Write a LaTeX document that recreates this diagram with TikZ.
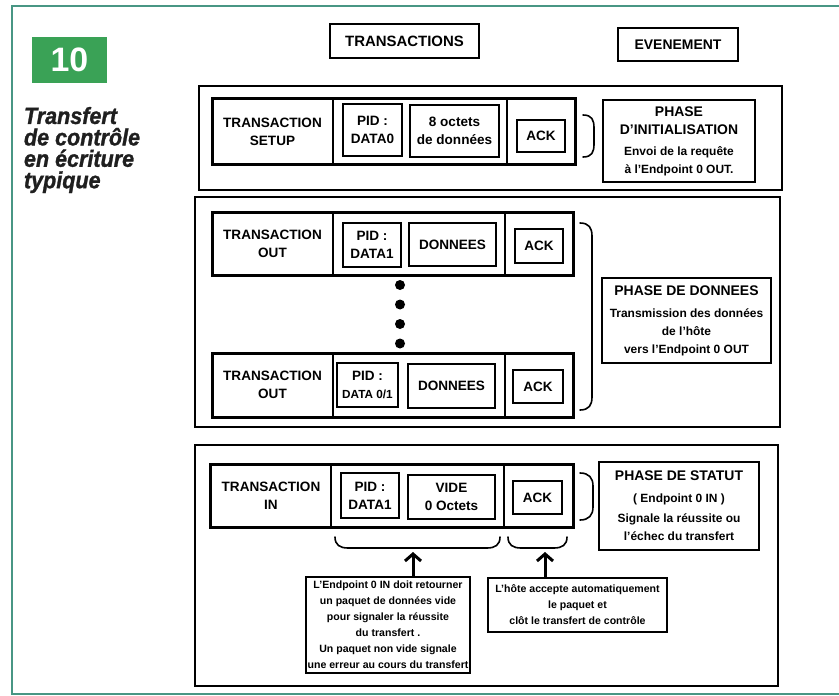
\documentclass[tikz,border=0pt]{standalone}
\usepackage{fontspec}
\setmainfont{Liberation Sans}
\newfontfamily\titlefont[FakeBold=1.2,FakeStretch=0.92]{Liberation Sans}
\usetikzlibrary{arrows.meta}
\definecolor{framecol}{RGB}{72,150,132}
\definecolor{badgecol}{RGB}{58,162,86}
\newcommand\phtxt{\fontsize{12}{15}\selectfont}

\begin{document}
\begin{tikzpicture}[x=1bp,y=-1bp,>={Straight Barb[length=7bp,width=16bp]},line join=miter,
  every node/.style={inner sep=0pt,outer sep=0pt,align=center,font=\bfseries\fontsize{13.6}{18}\selectfont},
  hdrbox/.style={draw,line width=2bp},
  grpbox/.style={draw,line width=1.2bp},
  rowbox/.style={draw,line width=3bp},
  pktbox/.style={draw,line width=1.3bp},
  phasebox/.style={draw,line width=2.6bp,font=\bfseries\fontsize{14}{18}\selectfont},
  notebox/.style={draw,line width=1.3bp,font=\bfseries\fontsize{10.6}{16}\selectfont},
  dotnode/.style={circle,fill,minimum size=10bp},
  brk/.style={line width=1.6bp,line cap=round}]
  \useasboundingbox (0,0) rectangle (839,696);
%%
  % Frame
  \draw [framecol,line width=1.5bp] (839,6) -- (12,6) -- (12,694) -- (839,694);
  % Node: 10
  \node [fill=badgecol,text=white,minimum width=75bp,minimum height=46bp,
    font=\bfseries\fontsize{34}{34}\selectfont] (badge) at (69.5,60) {10};
  % Node: title
  \node [anchor=north west,align=left,text=black!88,
    font=\titlefont\bfseries\itshape\fontsize{23.5}{21.5}\selectfont] (title) at (24,107)
    {Transfert\\de contrôle\\en écriture\\typique};
  % Node: TRANSACTIONS
  \node [hdrbox,minimum width=149bp,minimum height=34bp,font=\bfseries\fontsize{15}{18}\selectfont]
    (transactions) at (404.5,41) {TRANSACTIONS};
  % Node: EVENEMENT
  \node [hdrbox,minimum width=120bp,minimum height=33bp,font=\bfseries\fontsize{14}{18}\selectfont]
    (evenement) at (678,44.5) {EVENEMENT};
%
  % Group: setup
  \node [grpbox,minimum width=583bp,minimum height=104bp] (grpsetup) at (490.5,138) {};
  \node [rowbox,minimum width=363bp,minimum height=65bp] (rowsetup) at (393.5,131.5) {};
  \draw [line width=1.5bp] (333,99) -- (333,164);
  \draw [line width=1.5bp] (507,99) -- (507,164);
  \node (tsetup) at (272.5,131.5) {TRANSACTION\\SETUP};
  \node [pktbox,minimum width=59bp,minimum height=52bp] (pidsetup) at (372.5,130) {PID :\\DATA0};
  \node [pktbox,minimum width=89bp,minimum height=52bp] (datasetup) at (454.5,131) {8 octets\\de données};
  \node [pktbox,minimum width=48bp,minimum height=32bp] (acksetup) at (541,136) {ACK};
  \draw [brk] (583,115) .. controls (592,115) and (594,120) .. (594,128) -- (594,144) .. controls (594,152) and (592,157) .. (583,157);
  % Node: PHASE D'INITIALISATION
  \node [phasebox,minimum width=152bp,minimum height=82bp] (phinit) at (679,141)
    {PHASE\\D'INITIALISATION\\[3bp]\phtxt Envoi de la requête\\\phtxt à l'Endpoint 0 OUT.};
%
  % Group: donnees
  \node [grpbox,minimum width=585bp,minimum height=230bp] (grpdata) at (487.5,312) {};
  \node [rowbox,minimum width=361bp,minimum height=63bp] (rowoutA) at (392.5,243.5) {};
  \draw [line width=1.5bp] (333,212) -- (333,275);
  \draw [line width=1.5bp] (505,212) -- (505,275);
  \node (toutA) at (272.5,243.5) {TRANSACTION\\OUT};
  \node [pktbox,minimum width=58bp,minimum height=44bp] (pidoutA) at (372,245) {PID :\\DATA1};
  \node [pktbox,minimum width=87bp,minimum height=43bp] (dataoutA) at (452.5,244.5) {DONNEES};
  \node [pktbox,minimum width=48bp,minimum height=34bp] (ackoutA) at (539,246) {ACK};
  \node [dotnode] (dotA) at (400,285) {};
  \node [dotnode] (dotB) at (400,304.5) {};
  \node [dotnode] (dotC) at (400,324) {};
  \node [dotnode] (dotD) at (400,343.5) {};
  \node [rowbox,minimum width=361bp,minimum height=64bp] (rowoutB) at (392.5,385) {};
  \draw [line width=1.5bp] (333,353) -- (333,417);
  \draw [line width=1.5bp] (505,353) -- (505,417);
  \node (toutB) at (272.5,385) {TRANSACTION\\OUT};
  \node [pktbox,minimum width=61bp,minimum height=44bp] (pidoutB) at (367.5,385)
    {PID :\\\fontsize{11.8}{16}\selectfont DATA 0/1};
  \node [pktbox,minimum width=87bp,minimum height=44bp] (dataoutB) at (451.5,386) {DONNEES};
  \node [pktbox,minimum width=50bp,minimum height=33bp] (ackoutB) at (538,386.5) {ACK};
  \draw [brk] (580,223) .. controls (589,223) and (592,228) .. (592,236) -- (592,397) .. controls (592,405) and (589,410) .. (580,410);
  % Node: PHASE DE DONNEES
  \node [phasebox,minimum width=169bp,minimum height=85bp] (phdata) at (686.5,320.5)
    {PHASE DE DONNEES\\[4bp]\phtxt Transmission des données\\\phtxt de l'hôte\\\phtxt vers l'Endpoint 0 OUT};
%
  % Group: statut
  \node [grpbox,minimum width=583bp,minimum height=241bp] (grpstat) at (486.5,565.5) {};
  \node [rowbox,minimum width=363bp,minimum height=63bp] (rowin) at (391.5,495.5) {};
  \draw [line width=1.5bp] (331,464) -- (331,527);
  \draw [line width=1.5bp] (504,464) -- (504,527);
  \node (tin) at (271,495.5) {TRANSACTION\\IN};
  \node [pktbox,minimum width=58bp,minimum height=45bp] (pidin) at (370,495.5) {PID :\\DATA1};
  \node [pktbox,minimum width=87bp,minimum height=44bp] (datain) at (451.5,497) {VIDE\\0 Octets};
  \node [pktbox,minimum width=49bp,minimum height=33bp] (ackin) at (537.5,497.5) {ACK};
  \draw [brk] (580,473) .. controls (589,473) and (593,478) .. (593,486) -- (593,507) .. controls (593,515) and (589,520) .. (580,520);
  % Node: PHASE DE STATUT
  \node [phasebox,minimum width=160bp,minimum height=88bp] (phstat) at (679,506)
    {PHASE DE STATUT\\[4bp]\phtxt ( Endpoint 0 IN )\\[2bp]\phtxt Signale la réussite ou\\\phtxt l'échec du transfert};
  % Braces under the packets
  \draw [brk] (335,537) .. controls (335,545) and (340,548) .. (348,548) -- (487,548) .. controls (495,548) and (500,545) .. (500,537);
  \draw [brk] (508,537) .. controls (508,545) and (513,548) .. (521,548) -- (554,548) .. controls (562,548) and (567,545) .. (567,537);
  \coordinate (tipA) at (413,552);
  \coordinate (tipB) at (545,552);
  % Node: notes
  \node [notebox,minimum width=164bp,minimum height=96bp] (noteA) at (388,625)
    {L'Endpoint 0 IN doit retourner\\un paquet de données vide\\pour signaler la réussite\\du transfert .\\Un paquet non vide signale\\une erreur au cours du transfert};
  \node [notebox,minimum width=179bp,minimum height=54bp] (noteB) at (577.5,605)
    {L'hôte accepte automatiquement\\le paquet et\\clôt le transfert de contrôle};
  % Edge: noteA -> data brace
  \draw [->,line width=3bp] (noteA.north -| tipA) -- (tipA);
  % Edge: noteB -> ack brace
  \draw [->,line width=3bp] (noteB.north -| tipB) -- (tipB);
%
\end{tikzpicture}
\end{document}
